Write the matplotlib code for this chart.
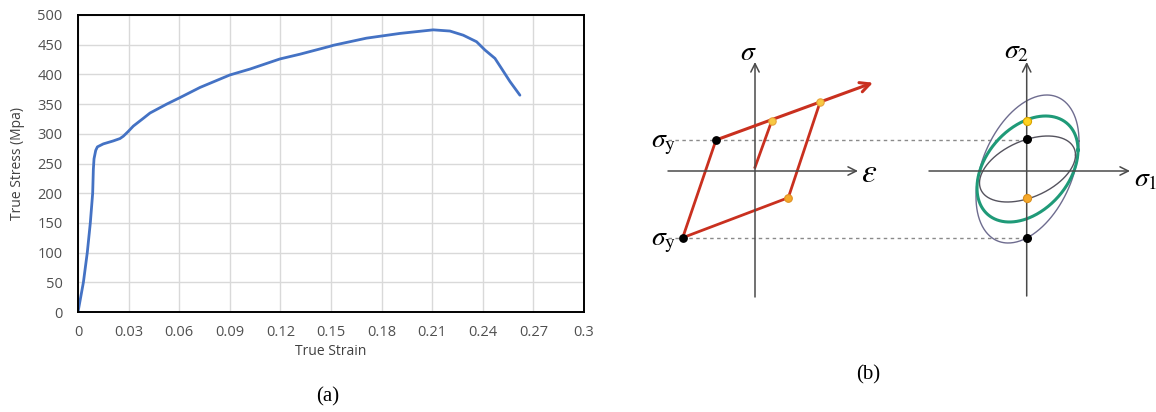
import numpy as np
import matplotlib
matplotlib.use("Agg")
import matplotlib.pyplot as plt

# ---------------- data: panel (a) ----------------
strain = [0.0, 0.0016, 0.0032, 0.0055, 0.0073, 0.0087, 0.0091, 0.0095, 0.0105, 0.0115,
          0.015, 0.0209, 0.0249, 0.0269, 0.0298, 0.0328, 0.0387, 0.0427, 0.0526, 0.0605,
          0.0723, 0.090, 0.102, 0.1197, 0.1316, 0.149, 0.1514, 0.171, 0.1909, 0.2106,
          0.2205, 0.2284, 0.2363, 0.2413, 0.2472, 0.2511, 0.2561, 0.262]
stress = [0, 25, 50, 100, 150, 200, 240, 258, 272, 278,
          283, 288, 292, 296, 304, 313, 326, 335, 350, 361,
          378, 399, 409, 426, 434, 447, 449, 461, 469, 475,
          473, 466, 455, 441, 427, 410, 388, 365]
xticks = [0, 0.03, 0.06, 0.09, 0.12, 0.15, 0.18, 0.21, 0.24, 0.27, 0.3]
xtick_labels = ["0", "0.03", "0.06", "0.09", "0.12", "0.15", "0.18", "0.21", "0.24", "0.27", "0.3"]
yticks = [0, 50, 100, 150, 200, 250, 300, 350, 400, 450, 500]

# ---------------- data: panel (b) schematic (pixel-space) ----------------
initial_path_x = [755, 771.7]
initial_path_y = [167.3, 121]
loop_x = [820, 788.3, 682.7, 716]
loop_y = [102.3, 197.7, 237.7, 140]
hard_start = (716, 140)
hard_end = (873, 82.7)
black_pts_x = [716, 682.7]
black_pts_y = [140, 237.7]
yellow_pts_x = [771.7, 820]
yellow_pts_y = [121, 102.3]
orange_pts_x = [788.3]
orange_pts_y = [197.7]
sigy_levels = [140, 237.7]
# ellipses: center x, center y, half-width, half-height, phase (deg)
ell_cx = 1027.5
ell_cy = 169
ell_hw = [51.5, 50.5, 48]
ell_hh = [74, 53, 33]
ell_phi = [68, 69, 65]
ell_colors = ["#6e6c8f", "#1f9a78", "#55535e"]
ell_lw = [1.0, 2.2, 1.0]
yield_black_y = [139.3, 237.7]
yield_yellow_y = [120.7]
yield_orange_y = [198.3]

W, H = 1156, 412
fig = plt.figure(figsize=(W / 100, H / 100), dpi=100)

# ---------------- panel (a) ----------------
ax = fig.add_axes([78 / W, 1 - 312 / H, (584 - 78) / W, (312 - 15) / H])
ax.plot(strain, stress, color="#4472C4", lw=2.0, solid_capstyle="round")
ax.set_xlim(0, 0.3)
ax.set_ylim(0, 500)
ax.set_xticks(xticks)
ax.set_xticklabels(xtick_labels)
ax.set_yticks(yticks)
ax.grid(True, color="#d9d9d9", lw=1.0)
ax.set_axisbelow(True)
for s in ax.spines.values():
    s.set_linewidth(1.4)
    s.set_color("black")
ax.tick_params(axis="y", length=0, labelsize=10.5, colors="#505050", pad=11)
ax.tick_params(axis="x", length=0, labelsize=10.5, colors="#505050", pad=9)
for lab in ax.get_xticklabels() + ax.get_yticklabels():
    lab.set_family("Open Sans")
ax.set_xlabel("True Strain", family="Open Sans", fontsize=10, color="#404040", labelpad=3)
ax.set_ylabel("True Stress (Mpa)", family="Open Sans", fontsize=10, color="#404040", labelpad=9)
fig.text(328 / W, 1 - 397 / H, "(a)", family="Liberation Serif", fontsize=15,
         ha="center", va="center")

# ---------------- panel (b) ----------------
bx = fig.add_axes([600 / W, 0, (W - 600) / W, 1])
bx.set_xlim(600, W)
bx.set_ylim(H, 0)
bx.axis("off")

axis_col = "#4a4a4a"
arrow_kw = dict(arrowstyle="->,head_length=0.6,head_width=0.3", color=axis_col, lw=1.1,
                shrinkA=0, shrinkB=0)
# left diagram axes
bx.annotate("", xy=(755, 62), xytext=(755, 297), arrowprops=arrow_kw)
bx.annotate("", xy=(858, 171), xytext=(668, 171), arrowprops=arrow_kw)
# right diagram axes
bx.annotate("", xy=(1026.7, 62), xytext=(1026.7, 296), arrowprops=arrow_kw)
bx.annotate("", xy=(1130, 171), xytext=(929, 171), arrowprops=arrow_kw)

# dashed sigma_y lines
for yl in sigy_levels:
    bx.plot([668, 1027], [yl, yl], ls=(0, (2.5, 2.5)), color="#8a8a8a", lw=1.0)

# hysteresis loop
red = "#c9301f"
bx.plot(initial_path_x, initial_path_y, color=red, lw=2.0)
bx.plot(loop_x, loop_y, color=red, lw=2.0, solid_joinstyle="miter")
bx.annotate("", xy=hard_end, xytext=hard_start,
            arrowprops=dict(arrowstyle="->,head_length=0.7,head_width=0.35", color=red,
                            lw=2.2, shrinkA=0, shrinkB=0))
bx.scatter(black_pts_x, black_pts_y, s=28, color="black", zorder=5)
bx.scatter(yellow_pts_x, yellow_pts_y, s=28, color="#f7c843", edgecolor="#e8a33a",
           lw=0.8, zorder=5)
bx.scatter(orange_pts_x, orange_pts_y, s=30, color="#f5a82a", edgecolor="#e09020",
           lw=0.8, zorder=5)

# ellipses
t = np.linspace(0, 2 * np.pi, 400)
for hw, hh, ph, c, lw in zip(ell_hw, ell_hh, ell_phi, ell_colors, ell_lw):
    ex = ell_cx + hw * np.cos(t)
    ey = ell_cy - hh * np.cos(t - np.deg2rad(ph))
    bx.plot(ex, ey, color=c, lw=lw)
bx.scatter([1026.7] * len(yield_black_y), yield_black_y, s=30, color="black", zorder=5)
bx.scatter([1026.7], yield_yellow_y, s=34, color="#ffd21f", edgecolor="#d9a400", lw=0.8, zorder=5)
bx.scatter([1026.7], yield_orange_y, s=34, color="#f5a82a", edgecolor="#d98e1a", lw=0.8, zorder=5)

# labels
mfs = 20
bx.text(748, 52, r"$\sigma$", fontsize=mfs, ha="center", va="center", math_fontfamily="stix")
bx.text(869, 172, r"$\varepsilon$", fontsize=24, ha="center", va="center", math_fontfamily="stix")
bx.text(664, 143, r"$\sigma_{\mathrm{y}}$", fontsize=mfs, ha="center", va="center", math_fontfamily="stix")
bx.text(664, 241, r"$\sigma_{\mathrm{y}}$", fontsize=mfs, ha="center", va="center", math_fontfamily="stix")
bx.text(1017, 50, r"$\sigma_2$", fontsize=mfs, ha="center", va="center", math_fontfamily="stix")
bx.text(1146, 178, r"$\sigma_1$", fontsize=mfs, ha="center", va="center", math_fontfamily="stix")
bx.text(868, 375, "(b)", family="Liberation Serif", fontsize=15, ha="center", va="center")

fig.savefig("out.png", dpi=100)
